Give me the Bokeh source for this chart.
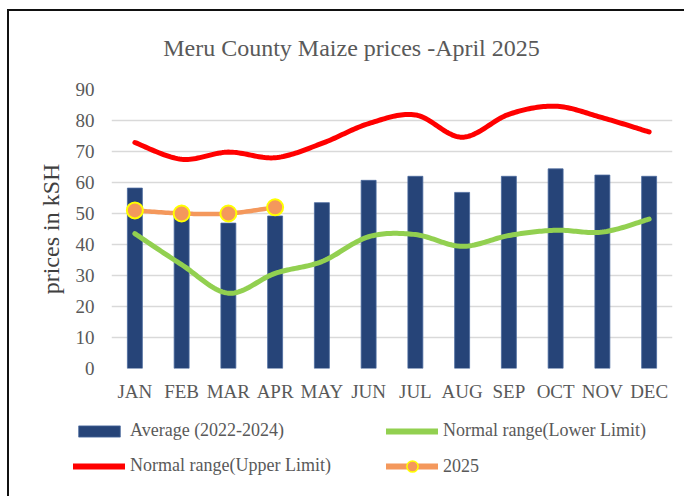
import numpy as np
from bokeh.plotting import figure
from bokeh.layouts import column
from bokeh.models import FixedTicker, Legend, LegendItem, Label
from bokeh.embed import file_html
from bokeh.resources import INLINE

# ---- data ----
months = ["JAN", "FEB", "MAR", "APR", "MAY", "JUN", "JUL", "AUG", "SEP", "OCT", "NOV", "DEC"]
average_2022_2024 = [58.2, 49.8, 46.9, 49.2, 53.5, 60.7, 62.0, 56.8, 62.0, 64.4, 62.4, 62.0]
upper_limit = [72.9, 67.5, 69.8, 68.0, 72.6, 79.0, 81.8, 74.6, 82.0, 84.6, 80.9, 76.3]
lower_limit = [43.5, 33.5, 24.3, 30.7, 34.5, 42.5, 43.2, 39.4, 42.9, 44.6, 44.0, 48.2]
prices_2025 = [51.0, 50.0, 50.0, 52.0]
y_ticks = [0, 10, 20, 30, 40, 50, 60, 70, 80, 90]
title_text = "Meru County Maize prices -April  2025"

FONT = "Liberation Serif"
TXT = "#595959"
C_BAR, C_BAR_EDGE = "#264478", "#4b6a9e"
C_UP, C_LOW, C_25, C_MK = "#FF0000", "#92D050", "#F4985C", "#FFFF00"
W = 684


def smooth(xs, ys, n=24):
    """Catmull-Rom style Bezier smoothing (like Excel's smoothed line), for drawing only."""
    P = np.column_stack([np.asarray(xs, float), np.asarray(ys, float)])
    ext = np.vstack([P[0], P, P[-1]])
    t = np.linspace(0, 1, n)[:, None]
    out = []
    for i in range(len(P) - 1):
        p0, p1, p2, p3 = ext[i], ext[i + 1], ext[i + 2], ext[i + 3]
        c1 = p1 + (p2 - p0) / 6.0
        c2 = p2 - (p3 - p1) / 6.0
        seg = (1 - t) ** 3 * p1 + 3 * (1 - t) ** 2 * t * c1 + 3 * (1 - t) * t ** 2 * c2 + t ** 3 * p2
        out.append(seg if i == 0 else seg[1:])
    s = np.vstack(out)
    return s[:, 0], s[:, 1]


def bare(fig):
    fig.outline_line_color = None
    fig.background_fill_color = None
    fig.border_fill_color = None
    fig.xgrid.visible = False
    fig.ygrid.visible = False


def style_legend(lg, glyph_h, label_w):
    lg.border_line_color = None
    lg.background_fill_color = None
    lg.padding = 0
    lg.margin = 0
    lg.glyph_width = 52
    lg.glyph_height = glyph_h
    lg.label_height = 20
    lg.label_width = label_w
    lg.label_standoff = 5
    lg.spacing = 14
    lg.label_text_font = FONT
    lg.label_text_font_size = "18px"
    lg.label_text_color = TXT


xi = list(range(len(months)))

# ---- title strip ----
tf = figure(width=W, height=77, output_backend="svg", toolbar_location=None,
            x_axis_location=None, y_axis_location=None, min_border=0, frame_align=False,
            x_range=(0, 1), y_range=(0, 1))
bare(tf)
tf.add_layout(Label(x=354, y=30, x_units="screen", y_units="screen", text=title_text,
                    text_font=FONT, text_font_size="24px", text_color=TXT,
                    text_align="center", text_baseline="middle"))

# ---- main chart ----
p = figure(width=W, height=333, output_backend="svg", toolbar_location=None,
           x_range=(-0.5, 11.5), y_range=(0, 90), frame_align=False,
           min_border_left=111, min_border_right=12, min_border_top=12, min_border_bottom=42)
p.outline_line_color = None
p.background_fill_color = None
p.border_fill_color = None

p.xaxis.ticker = FixedTicker(ticks=xi)
p.xaxis.major_label_overrides = {i: m for i, m in enumerate(months)}
p.yaxis.ticker = FixedTicker(ticks=y_ticks)
for ax in (p.xaxis, p.yaxis):
    ax.axis_line_color = None
    ax.major_tick_line_color = None
    ax.minor_tick_line_color = None
    ax.major_label_text_font = FONT
    ax.major_label_text_font_size = "19px"
    ax.major_label_text_color = TXT
p.xaxis.major_label_standoff = 6
p.yaxis.major_label_standoff = 11
p.yaxis.axis_label = "prices in kSH"
p.yaxis.axis_label_text_font = FONT
p.yaxis.axis_label_text_font_size = "24px"
p.yaxis.axis_label_text_font_style = "normal"
p.yaxis.axis_label_text_color = "#404040"
p.yaxis.axis_label_standoff = 9

p.xgrid.grid_line_color = None
p.ygrid.grid_line_color = "#d9d9d9"
p.ygrid.grid_line_width = 1.3

p.vbar(x=xi, top=average_2022_2024, width=0.32, fill_color=C_BAR, line_color=C_BAR_EDGE, line_width=0.8)
ux, uy = smooth(xi, upper_limit)
lx, ly = smooth(xi, lower_limit)
cx, cy = smooth(xi[:len(prices_2025)], prices_2025)
p.line(ux, uy, line_color=C_UP, line_width=5, line_cap="round", line_join="round")
p.line(lx, ly, line_color=C_LOW, line_width=5, line_cap="round", line_join="round")
p.line(cx, cy, line_color=C_25, line_width=4.5, line_cap="round", line_join="round")
p.scatter(xi[:len(prices_2025)], prices_2025, size=16, fill_color=C_25, line_color=C_MK, line_width=2)

# ---- legend strip: same series drawn outside the visible range, so only the legend shows ----
lf = figure(width=W, height=86, output_backend="svg", toolbar_location=None,
            x_axis_location=None, y_axis_location=None, min_border=0, frame_align=False,
            x_range=(-0.5, 11.5), y_range=(500, 600))
bare(lf)
r_bar = lf.vbar(x=xi, top=average_2022_2024, width=0.32, fill_color=C_BAR, line_color=C_BAR_EDGE, line_width=0.8)
r_low = lf.line(xi, lower_limit, line_color=C_LOW, line_width=6, line_cap="round")
r_up = lf.line(xi, upper_limit, line_color=C_UP, line_width=6, line_cap="round")
r_25 = lf.line(xi[:len(prices_2025)], prices_2025, line_color=C_25, line_width=6, line_cap="round")
r_mk = lf.scatter(xi[:len(prices_2025)], prices_2025, size=11, fill_color=C_25, line_color=C_MK, line_width=1.5)

legend = Legend(items=[
    LegendItem(label="Average (2022-2024)", renderers=[r_bar]),
    LegendItem(label="Normal range(Lower Limit)", renderers=[r_low]),
    LegendItem(label="Normal range(Upper Limit)", renderers=[r_up]),
], location=(73, 20), orientation="horizontal", ncols=2)
style_legend(legend, 14, 242)
lf.add_layout(legend, "center")

legend2 = Legend(items=[LegendItem(label="2025", renderers=[r_25, r_mk])],
                 location=(386, 16), orientation="horizontal")
style_legend(legend2, 28, 60)
lf.add_layout(legend2, "center")

layout = column(tf, p, lf, spacing=0,
                styles={"box-shadow": "inset 7px 9px 0 0 #ffffff, inset 9px 11px 0 0 #111111"})

open("out.html", "w").write(file_html(layout, INLINE))
